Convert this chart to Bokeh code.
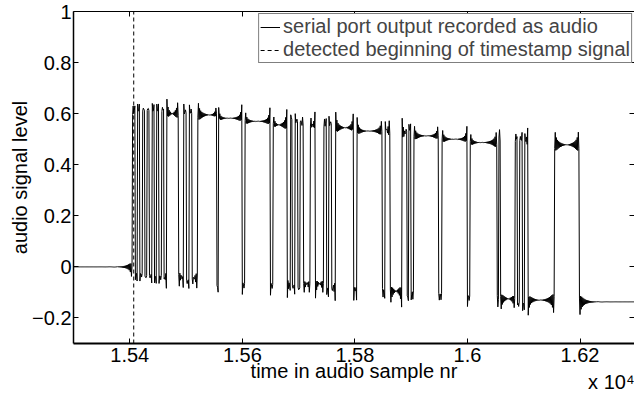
import numpy as np
from bokeh.plotting import figure
from bokeh.models import FixedTicker, LinearAxis, Legend, LegendItem, Title, Range1d
from bokeh.embed import file_html
from bokeh.resources import INLINE

# ---- data ----
# sample numbers at which the recorded level switches
edges = [15405, 15410, 15414, 15418, 15423, 15427, 15431, 15435, 15440, 15444,
         15448, 15452, 15457, 15461, 15466,
         15487, 15496, 15501, 15506, 15511, 15521,
         15555, 15558, 15600, 15605, 15650, 15655, 15680,
         15686, 15689, 15694, 15699, 15703, 15709, 15721, 15730, 15745, 15750,
         15754, 15759, 15766,
         15798, 15804, 15849, 15854, 15863, 15884, 15893, 15896, 15900, 15905,
         15949, 15955, 16000, 16005, 16053, 16056, 16059, 16085, 16089, 16093,
         16098, 16102, 16108, 16155, 16199]
# level of each segment (before the first edge, between edges, after the last)
levels = [0.0,
          0.595, -0.012, 0.595, -0.015, 0.595, -0.018, 0.595, -0.02, 0.595,
          -0.022, 0.595, -0.024, 0.595, -0.026,
          0.6, -0.035, 0.59, -0.04, 0.59, -0.04,
          0.595, -0.05, 0.582, -0.055, 0.57, -0.058, 0.556,
          -0.06, 0.555, -0.062, 0.555, -0.063, 0.553, -0.065, 0.55, -0.065, 0.545,
          -0.07, 0.545, -0.072,
          0.545, -0.078, 0.532, -0.083, 0.53, -0.095, 0.52, -0.09, 0.52, -0.092,
          0.513, -0.1, 0.5, -0.105, 0.487, -0.11, 0.49, -0.125, 0.485, -0.125,
          0.485, -0.127, 0.485, -0.13, 0.478, -0.137]
# ringing around every switch (relative to the step size)
ring_amp = 0.07
ring_decay = 15.0
ring_knee = 8.0
spike_amp = 0.045
spike_decay = 1.5

detect_sample = 15407
sample_first, sample_last = 15300, 16296
x_lim = [15300, 16296.8]
y_lim = [-0.3, 1.0]
x_ticks = [15400, 15600, 15800, 16000, 16200]
x_tick_labels = ["1.54", "1.56", "1.58", "1.6", "1.62"]
y_ticks = [-0.2, 0.0, 0.2, 0.4, 0.6, 0.8, 1.0]
y_tick_labels = ["\u22120.2", "0", "0.2", "0.4", "0.6", "0.8", "1"]
legend_labels = ["serial port output recorded as audio",
                 "detected beginning of timestamp signal"]
x_label = "time in audio sample nr"
x_multiplier = "x 10\u2074"
y_label = "audio signal level"

# ---- build the recorded waveform ----
t = np.arange(sample_first, sample_last + 1)
seg = np.searchsorted(np.array(edges), t, side="right")
sig = np.array(levels)[seg].astype(float)
steps = np.diff(levels)
alt = (-1.0) ** (t % 2)
for e, d in zip(edges, steps):
    k = t - e
    m = np.where(k >= 0, k, -k - 1)
    side = np.where(k >= 0, 1.0, -1.0)
    sig += d * ring_amp * np.exp(-m / ring_decay) / (1.0 + m / ring_knee) * alt
    sig += d * side * spike_amp * np.exp(-m / spike_decay)

FONT = "Liberation Sans"
FS = "20px"

p = figure(width=634, height=395,
           x_range=Range1d(*x_lim), y_range=Range1d(*y_lim),
           output_backend="svg", toolbar_location=None,
           min_border_left=73, min_border_right=0, min_border_top=11, min_border_bottom=52,
           background_fill_color="white", border_fill_color="white",
           outline_line_color=None)
p.grid.visible = False

r_sig = p.line(t, sig, line_color="black", line_width=1)
r_det = p.segment(x0=[detect_sample], y0=[y_lim[0]], x1=[detect_sample], y1=[y_lim[1]],
                  line_color="black", line_width=1, line_dash="4 3")


def style_axis(ax, ticks, labels=None):
    ax.ticker = FixedTicker(ticks=ticks)
    ax.major_tick_in = 5
    ax.major_tick_out = 0
    ax.minor_tick_in = 0
    ax.minor_tick_out = 0
    ax.axis_line_color = "black"
    ax.major_tick_line_color = "black"
    ax.major_label_text_font = FONT
    ax.major_label_text_color = "black"
    if labels is not None:
        ax.major_label_overrides = dict(zip(ticks, labels))
        ax.major_label_text_font_size = FS
    else:
        ax.major_label_overrides = {tk: "" for tk in ticks}
        ax.major_label_text_font_size = "0px"
        ax.major_label_standoff = 0


xa = p.xaxis[0]
ya = p.yaxis[0]
style_axis(xa, x_ticks, x_tick_labels)
style_axis(ya, y_ticks, y_tick_labels)
xa.axis_line_width = 2
ya.axis_line_width = 1.5
xa.major_label_standoff = 4
ya.major_label_standoff = 2
ya.axis_label = y_label
ya.axis_label_text_font = FONT
ya.axis_label_text_font_size = FS
ya.axis_label_text_font_style = "normal"
ya.axis_label_text_color = "black"
ya.axis_label_standoff = -2

top = LinearAxis()
style_axis(top, x_ticks)
top.axis_line_width = 1
p.add_layout(top, "above")
right = LinearAxis()
style_axis(right, y_ticks)
right.axis_line_color = None
p.add_layout(right, "right")

# x label and the x10^4 multiplier below the axis
p.add_layout(Title(text=x_label, align="center", vertical_align="top",
                   text_font=FONT, text_font_size=FS, text_font_style="normal",
                   text_color="black", standoff=-9), "below")
p.add_layout(Title(text=x_multiplier, align="right", vertical_align="top",
                   text_font=FONT, text_font_size=FS, text_font_style="normal",
                   text_color="black", standoff=-18, offset=0), "below")

legend = Legend(items=[LegendItem(label=legend_labels[0], renderers=[r_sig]),
                       LegendItem(label=legend_labels[1], renderers=[r_det])],
                location="top_right", margin=2, padding=1, spacing=-2,
                label_standoff=3, glyph_width=20, glyph_height=20, label_height=20,
                label_text_font=FONT, label_text_font_size=FS,
                border_line_color="black", border_line_width=1,
                background_fill_color="white", background_fill_alpha=1)
p.add_layout(legend)

open("out.html", "w").write(file_html(p, INLINE))
